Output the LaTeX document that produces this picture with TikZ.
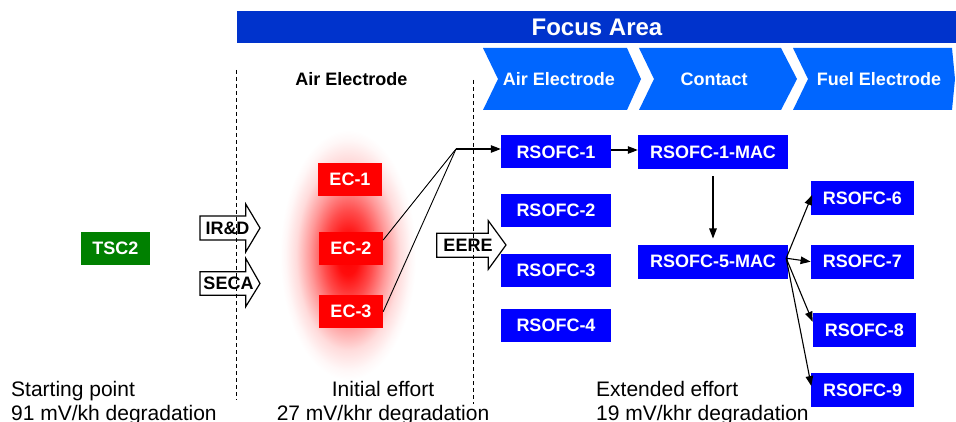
\documentclass[tikz,border=0pt]{standalone}
\usepackage{fontspec}
\setmainfont{Liberation Sans}
\usetikzlibrary{arrows.meta,calc}
\definecolor{barblue}{RGB}{0,51,204}
\definecolor{chevblue}{RGB}{0,102,255}
\definecolor{boxblue}{RGB}{0,0,255}
\definecolor{ecred}{RGB}{255,0,0}
\definecolor{tscgreen}{RGB}{0,128,0}
\newcommand\boxfont{\fontsize{18}{20}\selectfont\bfseries}
\newcommand\focusfont{\fontsize{24}{26}\selectfont\bfseries}
\newcommand\plainfont{\fontsize{21}{24}\selectfont}
\pgfdeclareradialshading{ecglow}{\pgfpoint{0bp}{0bp}}{color(0bp)=(ecred); color(4bp)=(ecred!95); color(9bp)=(ecred!70); color(14bp)=(ecred!40); color(19bp)=(ecred!14); color(23bp)=(ecred!3); color(25bp)=(white); color(50bp)=(white)}
\begin{document}
\begin{tikzpicture}[x=1pt,y=-1pt,
  box/.style={inner sep=0, text=white, font=\boxfont},
  ecbox/.style={box, fill=ecred, minimum width=64, minimum height=33},
  rsbox/.style={box, fill=boxblue, minimum width=110, minimum height=33},
  rsnbox/.style={box, fill=boxblue, minimum width=103, minimum height=34},
  macbox/.style={box, fill=boxblue, minimum width=150, minimum height=34},
  chevtext/.style={inner sep=0, text=white, font=\boxfont},
  blockarrow/.style={fill=white, draw=black, line width=1.2pt, line join=miter},
  arrowtext/.style={inner sep=0, text=black, font=\boxfont},
  conn/.style={draw=black, line width=1.1pt, -{Triangle[length=10pt,width=7.5pt]}},
  thinconn/.style={draw=black, line width=0.9pt},
  dashline/.style={draw=black, line width=1pt, dash pattern=on 4pt off 3pt},
  plaintext/.style={inner sep=0, text=black, font=\plainfont}]
\useasboundingbox (0,0) rectangle (956,422);
\fill[white] (0,0) rectangle (956,422);

% Focus Area bar
\fill[barblue] (237,11) rectangle (956,43);
\node[inner sep=0, text=white, font=\focusfont] (focus) at (597,27.5) {Focus Area};

% chevrons
\fill[chevblue] (483,48) -- (627,48) -- (641,79) -- (627,110) -- (483,110) -- (498,79) -- cycle;
\fill[chevblue] (639,48) -- (781,48) -- (797,79) -- (781,110) -- (639,110) -- (654,79) -- cycle;
\fill[chevblue] (793,48) -- (952,48) -- (955,79) -- (952,110) -- (793,110) -- (808,79) -- cycle;
\node[chevtext] (ch1) at (559,79) {Air Electrode};
\node[chevtext] (ch2) at (714,79) {Contact};
\node[chevtext] (ch3) at (879,79) {Fuel Electrode};

\node[arrowtext] (airleft) at (351.5,79.5) {Air Electrode};

% glow
\shade[shading=ecglow] (348,255) ellipse [x radius=68, y radius=125];

% boxes
\node[box, fill=tscgreen, minimum width=69, minimum height=33] (tsc) at (115.5,248.3) {TSC2};
\node[ecbox] (ec1) at (350,179.5) {EC-1};
\node[ecbox] (ec2) at (351,248.7) {EC-2};
\node[ecbox] (ec3) at (351,311.7) {EC-3};
\node[rsbox] (rs1) at (556,152) {RSOFC-1};
\node[rsbox] (rs2) at (556,210.3) {RSOFC-2};
\node[rsbox] (rs3) at (556,270.3) {RSOFC-3};
\node[rsbox] (rs4) at (556,325.3) {RSOFC-4};
\node[macbox] (rsm1) at (713,152) {RSOFC-1-MAC};
\node[macbox] (rsm5) at (713,261.7) {RSOFC-5-MAC};
\node[rsnbox] (rs6) at (862.3,198) {RSOFC-6};
\node[rsnbox] (rs7) at (862.3,261.7) {RSOFC-7};
\node[rsnbox] (rs8) at (864.3,330) {RSOFC-8};
\node[rsnbox] (rs9) at (862.5,390) {RSOFC-9};

% block arrows
\draw[blockarrow] (200,216) -- (245.7,216) -- (245.7,204) -- (260,228) -- (245.7,252) -- (245.7,240) -- (200,240) -- cycle;
\node[arrowtext] (ird) at (227.5,228) {IR\&D};
\draw[blockarrow] (200,271.7) -- (245.7,271.7) -- (245.7,258.3) -- (260,283.5) -- (245.7,306.7) -- (245.7,295.3) -- (200,295.3) -- cycle;
\node[arrowtext] (seca) at (228.5,283.5) {SECA};
\draw[blockarrow] (436.7,233.3) -- (488.3,233.3) -- (488.3,220.7) -- (506,245) -- (488.3,269.3) -- (488.3,257.3) -- (436.7,257.3) -- cycle;
\node[arrowtext] (eere) at (468,245) {EERE};

% connectors
\coordinate (junc) at (456,149);
\draw[thinconn] ($(ec2.east)+(0,-8.7)$) -- (junc);
\draw[thinconn] (ec3.east) -- (junc);
\draw[conn] (junc) -- (junc -| rs1.west);
\draw[conn] ($(rs1.east)+(0,-2)$) -- ($(rsm1.west)+(0,-2)$);
\draw[conn, shorten <=7pt, shorten >=6pt] (rsm1.south) -- (rsm5.north);
\coordinate (fan) at ($(rsm5.east)+(-2,-3.5)$);
\draw[conn] (fan) -- ($(rs6.west)+(1.5,-3)$);
\draw[conn] (fan) -- (rs7.west);
\draw[conn] (fan) -- ($(rs8.west)+(0,-8.3)$);
\draw[conn] (fan) -- ($(rs9.west)+(0.5,-4)$);

% dashed separators
\coordinate (d1a) at (236,70);
\coordinate (d1b) at (236,400);
\coordinate (d2a) at (473,80);
\coordinate (d2b) at (473,404);
\draw[dashline] (d1a) -- (d1b);
\draw[dashline] (d2a) -- (d2b);

% bottom texts
\node[plaintext, anchor=base west] (sp1) at (11,396) {Starting point};
\node[plaintext, anchor=base west] (sp2) at (11,420) {91 mV/kh degradation};
\node[plaintext, anchor=base] (ie1) at (383,396) {Initial effort};
\node[plaintext, anchor=base] (ie2) at (383,420) {27 mV/khr degradation};
\node[plaintext, anchor=base west] (ee1) at (596,396) {Extended effort};
\node[plaintext, anchor=base west] (ee2) at (596,420) {19 mV/khr degradation};
\end{tikzpicture}
\end{document}
